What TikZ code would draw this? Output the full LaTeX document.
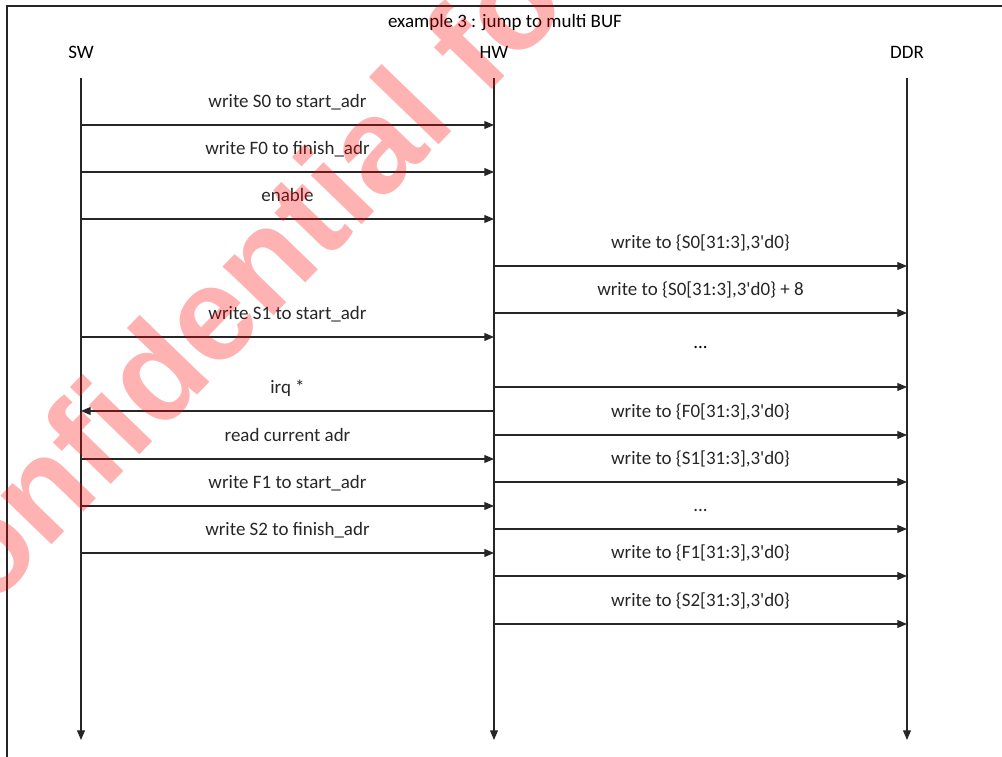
\documentclass[tikz,border=0pt]{standalone}
\usepackage{fontspec}
\setmainfont{Carlito}
\newfontfamily\stampfont{Liberation Sans}
\definecolor{SEQline}{HTML}{262626}
\definecolor{SEQstamp}{HTML}{FF0000}
\usetikzlibrary{arrows.meta, calc, positioning}

\begin{document}
\begin{tikzpicture}[x=0.02cm, y=-0.02cm, font=\fontsize{10.8}{12}\selectfont,
      lifeline/.style={SEQline, line width=0.65pt, -{Triangle[length=5.5pt, width=4.5pt]}},
      msg/.style={SEQline, line width=0.65pt, -{Triangle[length=5.5pt, width=4.5pt]}},
      msglabel/.style={midway, anchor=base, yshift=0.36cm, inner sep=0pt}]
      \useasboundingbox (0,0) rectangle (1002,757);
      % Frame
      \draw[SEQline, line width=0.65pt] (7,757) -- (7,6) -- (1002,6);
      \node[anchor=base] (title) at (505,28) {example 3 : jump to multi BUF};
      % Heads
      \node[anchor=base] (sw) at (81,59) {SW};
      \node[anchor=base] (hw) at (494,59) {HW};
      \node[anchor=base] (ddr) at (907,59) {DDR};
      % Lifelines
      \foreach \who in {sw, hw, ddr} {
         \coordinate (\who top) at (\who |- 0,78);
         \coordinate (\who end) at (\who |- 0,740);
         \draw[lifeline] (\who top) -- (\who end);
      }
      % Messages: y / from / to / text
      \foreach \y/\from/\to/\txt in {
            125/sw/hw/{write S0 to start\_adr},
            172/sw/hw/{write F0 to finish\_adr},
            219/sw/hw/{enable},
            266/hw/ddr/{write to \{S0[31:3],3\textquotesingle d0\}},
            313/hw/ddr/{write to \{S0[31:3],3\textquotesingle d0\} + 8},
            337/sw/hw/{write S1 to start\_adr},
            387/hw/ddr/{},
            411/hw/sw/{irq *},
            435/hw/ddr/{write to \{F0[31:3],3\textquotesingle d0\}},
            459/sw/hw/{read current adr},
            482/hw/ddr/{write to \{S1[31:3],3\textquotesingle d0\}},
            506/sw/hw/{write F1 to start\_adr},
            529/hw/ddr/{...},
            553/sw/hw/{write S2 to finish\_adr},
            576/hw/ddr/{write to \{F1[31:3],3\textquotesingle d0\}},
            624/hw/ddr/{write to \{S2[31:3],3\textquotesingle d0\}}} {
         \draw[msg] (\from |- 0,\y) -- (\to |- 0,\y) node[msglabel] {\txt};
      }
      % Dots of the first run
      \node[anchor=base] (dots) at ($(hw |- 0,348)!0.5!(ddr |- 0,348)$) {...};
      % Stamp
      \begin{scope}
         \clip (0,0) rectangle (1002,757);
         \node[rotate=46, anchor=base west, inner sep=0pt, text=SEQstamp, text opacity=0.3,
            font=\stampfont\bfseries\fontsize{76}{84}\selectfont] (stamp) at (-78,680) {Confidential for};
      \end{scope}
   \end{tikzpicture}
\end{document}
